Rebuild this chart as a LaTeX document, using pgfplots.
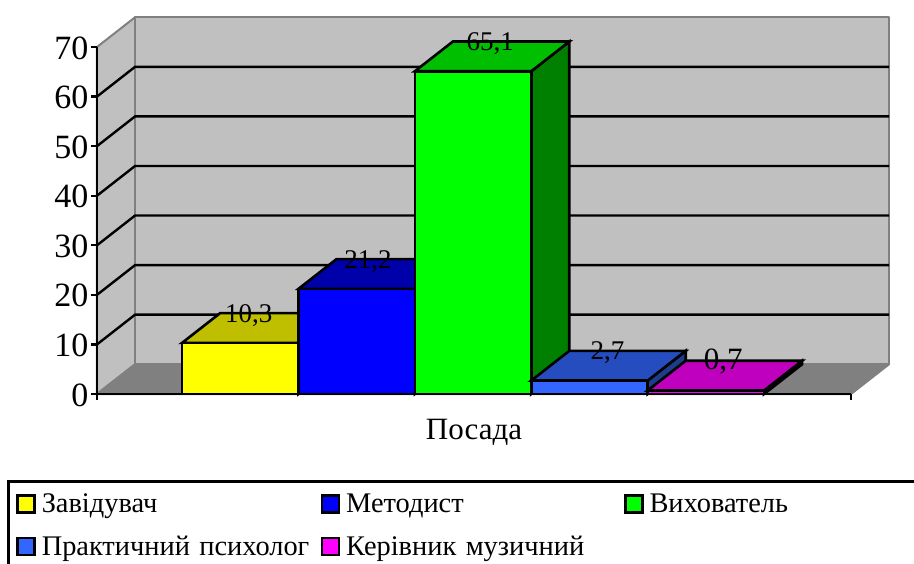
\documentclass[border=0pt]{standalone}
\usepackage{fontspec}
\setmainfont{Liberation Serif}
\usepackage{pgfplots}
\pgfplotsset{compat=1.18}
\definecolor{wall}{HTML}{C0C0C0}
\definecolor{floorc}{HTML}{808080}
\definecolor{psy}{HTML}{3366FF}
\definecolor{yfront}{HTML}{FFFF00}
\definecolor{yside}{HTML}{808000}
\definecolor{ytop}{HTML}{BFBF00}
\definecolor{bfront}{HTML}{0000FF}
\definecolor{bside}{HTML}{000080}
\definecolor{btop}{HTML}{0000AA}
\definecolor{gfront}{HTML}{00FF00}
\definecolor{gside}{HTML}{008000}
\definecolor{gtop}{HTML}{00BF00}
\definecolor{pside}{HTML}{1E3C8C}
\definecolor{ptop}{HTML}{264DBF}
\definecolor{mfront}{HTML}{FF00FF}
\definecolor{mside}{HTML}{800080}
\definecolor{mtop}{HTML}{BF00BF}
\pgfplotsset{
    face/.style={draw=black, line width=2.6pt, line join=miter, fill=#1, mark=none, forget plot},
    shell/.style={draw=floorc, line width=2pt, line join=round, fill=#1, mark=none, forget plot},
    gridl/.style={draw=black, line width=2.4pt, mark=none, forget plot},
    swatch/.style={draw=black, line width=2.4pt, fill=#1},
    vlabel/.style={draw=none, mark=none, forget plot,
        nodes near coords, point meta=explicit symbolic,
        every node near coord/.append style={
            anchor=base, yshift=-9pt, black,
            font=\fontsize{#1}{32}\selectfont}},
}
\begin{document}
\begin{tikzpicture}
    \path[use as bounding box, clip] (0,0) rectangle (914pt,563pt);
    \begin{axis}[
        at={(97pt,169pt)}, anchor=south west,
        scale only axis, width=754pt, height=347pt,
        xmin=-0.73, xmax=5.747, ymin=0, ymax=70,
        clip=false,
        axis on top=true,
        axis x line=bottom, axis y line=left,
        axis line style={-, line width=2.6pt, black},
        xtick={-0.73,5.747}, xticklabels={},
        ytick={0,10,...,70},
        tick align=outside, major tick length=6pt,
        tick style={black, line width=2.4pt},
        tick label style={font=\fontsize{34}{36}\selectfont},
        /pgf/number format/assume math mode=true,
        yticklabel style={xshift=1pt, yshift=-1pt},
        xlabel={Посада},
        xlabel style={font=\fontsize{31}{35}\selectfont, yshift=-9pt},
        legend columns=3,
        legend cell align=left,
        legend image code/.code={\draw[#1] (0pt,-9pt) rectangle (17pt,8pt); \path (21pt,0pt);},
        legend style={
            at={(-0.1193,-0.248)}, anchor=north west,
            draw=black, line width=2.6pt, fill=white,
            font=\fontsize{28.4}{32}\selectfont,
            inner xsep=8pt, inner ysep=10pt,
            /tikz/row sep=18pt,
            /tikz/column 2/.style={nodes={text width=277pt}},
            /tikz/column 4/.style={nodes={text width=276pt}},
            /tikz/column 6/.style={nodes={text width=300pt}},
        },
    ]
        % walls and floor
        \addplot[shell=wall] coordinates {(-0.73,0) (-0.403,6) (-0.403,76) (-0.73,70)} --cycle;
        \addplot[shell=wall] coordinates {(-0.403,6) (6.074,6) (6.074,76) (-0.403,76)} --cycle;
        \addplot[shell=floorc] coordinates {(-0.73,0) (5.747,0) (6.074,6) (-0.403,6)} --cycle;
        % grid lines on the walls
        \addplot[gridl] coordinates {(-0.73,10) (-0.403,16) (6.074,16)};
        \addplot[gridl] coordinates {(-0.73,20) (-0.403,26) (6.074,26)};
        \addplot[gridl] coordinates {(-0.73,30) (-0.403,36) (6.074,36)};
        \addplot[gridl] coordinates {(-0.73,40) (-0.403,46) (6.074,46)};
        \addplot[gridl] coordinates {(-0.73,50) (-0.403,56) (6.074,56)};
        \addplot[gridl] coordinates {(-0.73,60) (-0.403,66) (6.074,66)};
        % Завідувач 10.3
        \addplot[face=yside] coordinates {(1,0) (1.327,6) (1.327,16.3) (1,10.3)} --cycle;
        \addplot[face=ytop] coordinates {(0,10.3) (1,10.3) (1.327,16.3) (0.327,16.3)} --cycle;
        \addplot[face=yfront] coordinates {(0,0) (1,0) (1,10.3) (0,10.3)} --cycle;
        % Методист 21.2
        \addplot[face=bside] coordinates {(2,0) (2.327,6) (2.327,27.2) (2,21.2)} --cycle;
        \addplot[face=btop] coordinates {(1,21.2) (2,21.2) (2.327,27.2) (1.327,27.2)} --cycle;
        \addplot[face=bfront] coordinates {(1,0) (2,0) (2,21.2) (1,21.2)} --cycle;
        % Вихователь 65.1
        \addplot[face=gside] coordinates {(3,0) (3.327,6) (3.327,71.1) (3,65.1)} --cycle;
        \addplot[face=gtop] coordinates {(2,65.1) (3,65.1) (3.327,71.1) (2.327,71.1)} --cycle;
        \addplot[face=gfront] coordinates {(2,0) (3,0) (3,65.1) (2,65.1)} --cycle;
        % Практичний психолог 2.7
        \addplot[face=pside] coordinates {(4,0) (4.327,6) (4.327,8.7) (4,2.7)} --cycle;
        \addplot[face=ptop] coordinates {(3,2.7) (4,2.7) (4.327,8.7) (3.327,8.7)} --cycle;
        \addplot[face=psy] coordinates {(3,0) (4,0) (4,2.7) (3,2.7)} --cycle;
        % Керівник музичний 0.7
        \addplot[face=mside] coordinates {(5,0) (5.327,6) (5.327,6.7) (5,0.7)} --cycle;
        \addplot[face=mtop] coordinates {(4,0.7) (5,0.7) (5.327,6.7) (4.327,6.7)} --cycle;
        \addplot[face=mfront] coordinates {(4,0) (5,0) (5,0.7) (4,0.7)} --cycle;
        % value labels
        \addplot[vlabel=27] coordinates {
            (0.574,16.3)[10,3]
            (1.598,27.2)[21,2]
            (2.648,71.1)[65,1]
            (3.655,8.7)[2,7]
        };
        \addplot[vlabel=31] coordinates {(4.650,6.7)[0,7]};
        % legend
        \addlegendimage{swatch=yfront}
        \addlegendentry{Завідувач}
        \addlegendimage{swatch=bfront}
        \addlegendentry{Методист}
        \addlegendimage{swatch=gfront}
        \addlegendentry{Вихователь}
        \addlegendimage{swatch=psy}
        \addlegendentry{Практичний психолог}
        \addlegendimage{swatch=mfront}
        \addlegendentry{Керівник музичний}
    \end{axis}
\end{tikzpicture}
\end{document}
